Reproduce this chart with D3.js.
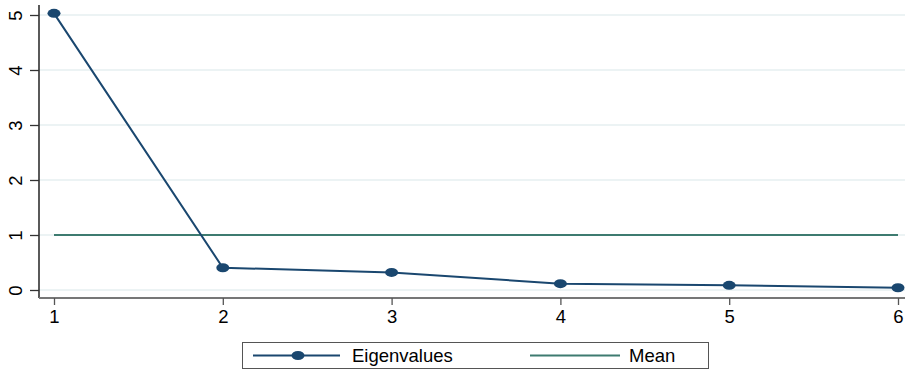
<!DOCTYPE html>
<html>
<head>
<meta charset="utf-8">
<script src="https://cdn.jsdelivr.net/npm/d3@7"></script>
<style>
  body { margin: 0; background: #fff; }
  text { font-family: "Liberation Sans", Arial, sans-serif; }
</style>
</head>
<body>
<div id="chart-area"></div>
<script>
// components and their eigenvalues
var components = [1, 2, 3, 4, 5, 6];
var eigenvalues = [5.03, 0.405, 0.32, 0.115, 0.085, 0.04];
var meanValue = [1, 1];
var yTicks = [0, 1, 2, 3, 4, 5];
var legendLabels = ["Eigenvalues", "Mean"];

var width = 915, height = 370;

var svg = d3.select("#chart-area")
    .append("svg")
    .attr("width", width)
    .attr("height", height);

// x: 1..6 -> 54..898, y: 0..5 -> 290..15
var x = d3.scaleLinear().domain([1, 6]).range([54, 898]);
var y = d3.scaleLinear().domain([0, 5]).range([290, 15]);

// light grid lines
svg.selectAll("line.grid")
    .data(yTicks)
    .enter()
    .append("line")
    .attr("class", "grid")
    .attr("x1", 39)
    .attr("x2", 905)
    .attr("y1", d => y(d))
    .attr("y2", d => y(d))
    .attr("stroke", "#e6eff1")
    .attr("stroke-width", 1.5);

// y axis
var yAxis = svg.append("g")
    .attr("transform", "translate(39,0)")
    .call(d3.axisLeft(y).tickValues(yTicks).tickSize(9).tickPadding(8).tickFormat(d3.format("d")));
yAxis.select(".domain").attr("d", "M0,5V298").attr("stroke", "#000").attr("stroke-width", 1.3);
yAxis.selectAll(".tick line").attr("stroke", "#333").attr("stroke-width", 1.3);
yAxis.selectAll(".tick text")
    .attr("font-size", 18.5)
    .attr("fill", "#000")
    .attr("transform", "rotate(-90)")
    .attr("x", 0)
    .attr("y", -23)
    .attr("dy", "0.35em")
    .attr("text-anchor", "middle");

// x axis
var xAxis = svg.append("g")
    .attr("transform", "translate(0,298)")
    .call(d3.axisBottom(x).tickValues(components).tickSize(7).tickPadding(5).tickFormat(d3.format("d")));
xAxis.select(".domain").attr("d", "M39,0H905").attr("stroke", "#777").attr("stroke-width", 2);
xAxis.selectAll(".tick line").attr("stroke", "#555").attr("stroke-width", 1.3);
xAxis.selectAll(".tick text").attr("font-size", 18.5).attr("fill", "#000");

// mean line
svg.append("path")
    .datum(meanValue)
    .attr("d", d3.line().x((d, i) => x(i === 0 ? 1 : 6)).y(d => y(d)))
    .attr("fill", "none")
    .attr("stroke", "#3e7b70")
    .attr("stroke-width", 2);

// eigenvalue line
var pts = components.map((c, i) => ({ c: c, v: eigenvalues[i] }));
svg.append("path")
    .datum(pts)
    .attr("d", d3.line().x(d => x(d.c)).y(d => y(d.v)))
    .attr("fill", "none")
    .attr("stroke", "#1a476f")
    .attr("stroke-width", 2);

svg.selectAll("ellipse.pt")
    .data(pts)
    .enter()
    .append("ellipse")
    .attr("class", "pt")
    .attr("cx", d => x(d.c))
    .attr("cy", d => y(d.v))
    .attr("rx", 6.5)
    .attr("ry", 4.5)
    .attr("fill", "#1a476f");

// legend
var lg = svg.append("g");
lg.append("rect")
    .attr("x", 242.5).attr("y", 342.5)
    .attr("width", 466).attr("height", 26)
    .attr("fill", "#fff")
    .attr("stroke", "#555")
    .attr("stroke-width", 1);

lg.append("line")
    .attr("x1", 253).attr("x2", 340).attr("y1", 355.5).attr("y2", 355.5)
    .attr("stroke", "#1a476f").attr("stroke-width", 2);
lg.append("ellipse")
    .attr("cx", 298).attr("cy", 355.5).attr("rx", 6.5).attr("ry", 4.5)
    .attr("fill", "#1a476f");
lg.append("text")
    .attr("x", 352).attr("y", 356).attr("dy", "0.35em")
    .attr("font-size", 18.5)
    .text(legendLabels[0]);

lg.append("line")
    .attr("x1", 530).attr("x2", 620).attr("y1", 355.5).attr("y2", 355.5)
    .attr("stroke", "#3e7b70").attr("stroke-width", 2);
lg.append("text")
    .attr("x", 629).attr("y", 356).attr("dy", "0.35em")
    .attr("font-size", 18.5)
    .text(legendLabels[1]);
</script>
</body>
</html>
